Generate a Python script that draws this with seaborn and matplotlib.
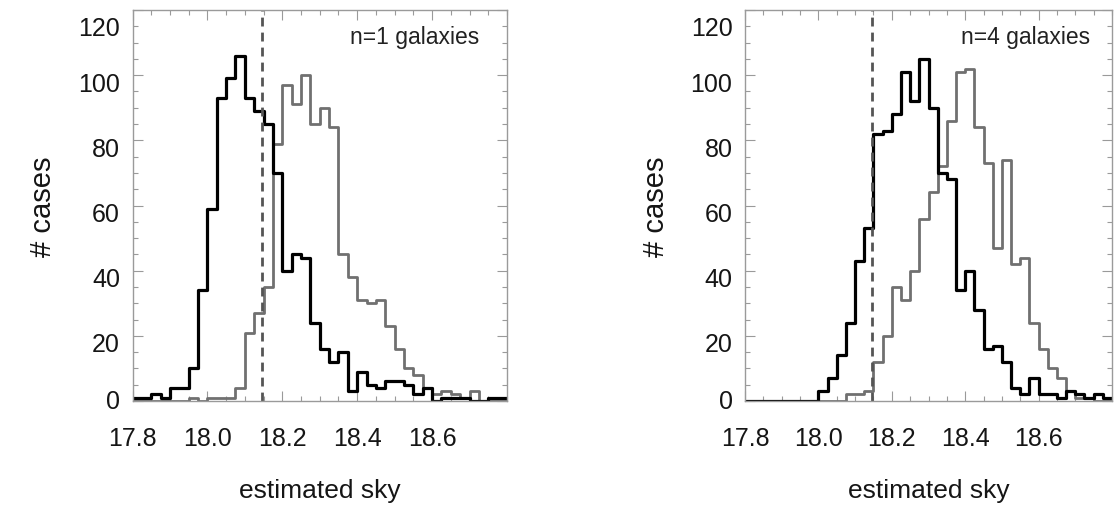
import numpy as np
import pandas as pd
import matplotlib
matplotlib.use("Agg")
import matplotlib.pyplot as plt
import matplotlib.transforms as mtransforms
from matplotlib.ticker import MultipleLocator, FixedLocator
import seaborn as sns

# ---- data (counts per bin, 40 bins of width 0.025 from 17.8 to 18.8) ----
bin_lo, bin_hi, n_bins = 17.8, 18.8, 40
left_black = [1, 1, 2, 1, 4, 4, 10, 34, 59, 93, 99, 106, 93, 89, 85, 70, 40, 45, 44, 24,
              16, 12, 15, 3, 9, 5, 4, 6, 6, 5, 2, 4, 0, 1, 1, 1, 0, 0, 1, 1]
left_gray = [0, 0, 0, 0, 0, 0, 1, 0, 1, 1, 1, 4, 21, 27, 35, 79, 97, 91, 100, 85,
             90, 84, 45, 38, 31, 30, 31, 23, 16, 10, 8, 4, 2, 3, 2, 1, 3, 0, 0, 0]
right_black = [0, 0, 0, 0, 0, 0, 0, 0, 3, 7, 14, 24, 43, 53, 82, 83, 88, 101, 92, 105,
               90, 70, 68, 34, 40, 28, 16, 17, 12, 4, 2, 7, 2, 2, 1, 3, 2, 1, 2, 1]
right_gray = [0, 0, 0, 0, 0, 0, 0, 0, 0, 0, 0, 2, 2, 3, 12, 20, 35, 31, 40, 56,
              64, 72, 86, 101, 102, 84, 73, 47, 74, 42, 44, 24, 16, 10, 7, 3, 1, 1, 0, 0]
sky_cut = 18.145
panel_titles = ["n=1 galaxies", "n=4 galaxies"]
xtick_vals = [17.8, 18.0, 18.2, 18.4, 18.6]
ytick_vals = [0, 20, 40, 60, 80, 100, 120]

edges = [float(e) for e in np.linspace(bin_lo, bin_hi, n_bins + 1)]
centers = [0.5 * (edges[i] + edges[i + 1]) for i in range(n_bins)]

sns.set_style("ticks")
plt.rcParams['font.family'] = ['Liberation Sans', 'DejaVu Sans']

fig = plt.figure(figsize=(11.15, 5.1), dpi=100)
ax1 = fig.add_axes([132.5 / 1115, 108 / 510, 374.5 / 1115, 391 / 510])
ax2 = fig.add_axes([745 / 1115, 108 / 510, 367 / 1115, 391 / 510])

frame_col = "#9a9a9a"
panels = [(ax1, left_black, left_gray, panel_titles[0], 0.925),
          (ax2, right_black, right_gray, panel_titles[1], 0.94)]

# vertical nudges (pixels, positive = down) of the y tick labels, as in the reference
label_shift_px = {0: -2, 20: 6, 40: 6, 60: 6, 80: 6, 100: 6, 120: 16}

for ax, blk, gry, title, tx in panels:
    dfg = pd.DataFrame({"sky": centers, "count": gry})
    dfb = pd.DataFrame({"sky": centers, "count": blk})
    sns.histplot(data=dfg, x="sky", weights="count", bins=edges,
                 element="step", fill=False, color="#707070", linewidth=2.0, ax=ax)
    sns.histplot(data=dfb, x="sky", weights="count", bins=edges,
                 element="step", fill=False, color="black", linewidth=2.3, ax=ax)
    ax.axvline(sky_cut, color="#555555", linestyle=(0, (3.2, 2.2)), linewidth=2.0)
    ax.set_xlim(bin_lo, bin_hi)
    ax.set_ylim(0, 120)
    ax.xaxis.set_major_locator(FixedLocator(xtick_vals))
    ax.xaxis.set_minor_locator(MultipleLocator(0.05))
    ax.yaxis.set_major_locator(FixedLocator(ytick_vals))
    ax.yaxis.set_minor_locator(MultipleLocator(5))
    ax.set_xticklabels([f"{v:.1f}" for v in xtick_vals])
    ax.set_yticklabels([str(v) for v in ytick_vals])
    ax.tick_params(axis="both", which="both", direction="in", top=True, right=True,
                   color=frame_col, width=0.8)
    ax.tick_params(axis="both", which="major", length=7, labelsize=18, labelcolor="#151515")
    ax.tick_params(axis="both", which="minor", length=3.5)
    ax.tick_params(axis="x", which="major", pad=18)
    ax.tick_params(axis="y", which="major", pad=9)
    for s in ax.spines.values():
        s.set_color(frame_col)
        s.set_linewidth(1.0)
        s.set_visible(True)
    for lab, v in zip(ax.get_yticklabels(), ytick_vals):
        dy = label_shift_px[v]
        lab.set_transform(lab.get_transform() +
                          mtransforms.ScaledTranslation(0, -dy / 100, fig.dpi_scale_trans))
    ax.set_xlabel("estimated sky", fontsize=19, labelpad=20, color="#151515")
    ax.set_ylabel("# cases", fontsize=21, labelpad=15, color="#151515")
    ax.text(tx, 0.933, title, transform=ax.transAxes, ha="right", va="center",
            fontsize=16.5, color="#222222")

fig.savefig("out.png", dpi=100)
